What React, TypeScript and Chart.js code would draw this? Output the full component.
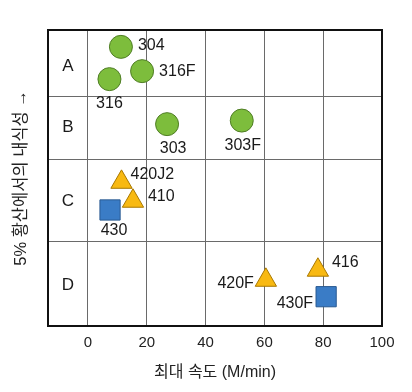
import { useEffect, useRef } from 'react';
import { Chart, registerables } from 'chart.js';

Chart.register(...registerables);

// ---- data ----
const gradeNames = ['304', '316F', '316', '303', '303F', '420J2', '410', '430', '420F', '416', '430F'];
const maxSpeed = [11.2, 18.4, 7.3, 26.9, 52.3, 11.4, 15.3, 7.5, 60.5, 78.2, 81.0];
const corrosionScore = [94.3, 86.1, 83.4, 68.2, 69.4, 48.6, 42.2, 39.2, 15.5, 18.9, 9.9];
const gradeGroup = ['aus', 'aus', 'aus', 'aus', 'aus', 'mar', 'mar', 'fer', 'mar', 'mar', 'fer'];

const xTicks = [0, 20, 40, 60, 80, 100];
const ratingBoundaries = [28.4, 56.4, 77.7];
const ratingLabels = ['A', 'B', 'C', 'D'];
const ratingY = [87.8, 67.1, 42.2, 13.9];
const ratingX = -6.8;

const xTitle = '최대 속도 (M/min)';
const yTitle = '5% 황산에서의 내식성 →';

// ---- styling (not data) ----
const FONT = "'Liberation Sans', 'Noto Sans CJK KR', Arial, sans-serif";
const TITLE_FONT = "'Liberation Sans', 'Noto Sans CJK KR', 'DejaVu Sans', sans-serif";
const groupStyle: Record<string, any> = {
  aus: { pointStyle: 'circle', radius: 11.5, bg: '#7dbd3c', border: '#4f7d25' },
  mar: { pointStyle: 'triangle', radius: 12.3, bg: '#f8b912', border: '#a97800' },
  fer: { pointStyle: 'rect', radius: 14.3, bg: '#3a7cc6', border: '#2a5a92' },
};
const labelPlacement = [
  { align: 'left', dx: 17, dy: -1 },
  { align: 'left', dx: 17, dy: 0.5 },
  { align: 'center', dx: 0, dy: 24 },
  { align: 'center', dx: 6, dy: 24 },
  { align: 'center', dx: 1, dy: 25 },
  { align: 'left', dx: 9, dy: -8 },
  { align: 'left', dx: 15, dy: -4 },
  { align: 'center', dx: 4, dy: 21 },
  { align: 'right', dx: -12, dy: 3 },
  { align: 'left', dx: 14, dy: -7 },
  { align: 'right', dx: -13, dy: 7 },
];

const annotationPlugin = {
  id: 'annotations',
  beforeDatasetsDraw(chart: any) {
    const { ctx, chartArea } = chart;
    ctx.save();
    ctx.strokeStyle = '#111';
    ctx.lineWidth = 2;
    ctx.strokeRect(chartArea.left, chartArea.top, chartArea.right - chartArea.left, chartArea.bottom - chartArea.top);
    const xs = chart.scales.x;
    const ys = chart.scales.y;
    ctx.fillStyle = '#1a1a1a';
    ctx.font = `17px ${FONT}`;
    ctx.textAlign = 'center';
    ctx.textBaseline = 'middle';
    ratingLabels.forEach((lab, i) => {
      ctx.fillText(lab, xs.getPixelForValue(ratingX), ys.getPixelForValue(ratingY[i]));
    });
    ctx.restore();
  },
  afterDatasetsDraw(chart: any) {
    const { ctx } = chart;
    ctx.save();
    ctx.fillStyle = '#1a1a1a';
    ctx.font = `16px ${FONT}`;
    ctx.textBaseline = 'middle';
    chart.data.datasets.forEach((ds: any, di: number) => {
      const meta = chart.getDatasetMeta(di);
      meta.data.forEach((el: any, j: number) => {
        const idx = ds.data[j].idx;
        const p = labelPlacement[idx];
        ctx.textAlign = p.align;
        ctx.fillText(gradeNames[idx], el.x + p.dx, el.y + p.dy);
      });
    });
    ctx.restore();
  },
};

function buildDataset(group: string) {
  const st = groupStyle[group];
  const data = gradeNames
    .map((_, i) => i)
    .filter((i) => gradeGroup[i] === group)
    .map((i) => ({ x: maxSpeed[i], y: corrosionScore[i], idx: i }));
  return {
    data,
    pointStyle: st.pointStyle,
    pointRadius: st.radius,
    pointBackgroundColor: st.bg,
    pointBorderColor: st.border,
    pointBorderWidth: 1,
    showLine: false,
  };
}

export default function App() {
  const ref = useRef<HTMLCanvasElement>(null);
  useEffect(() => {
    if (!ref.current) return;
    const chart = new Chart(ref.current, {
      type: 'scatter',
      data: { datasets: [buildDataset('aus'), buildDataset('mar'), buildDataset('fer')] as any },
      options: {
        animation: false,
        responsive: false,
        devicePixelRatio: 1,
        layout: { padding: { left: 0, top: 30, right: 30, bottom: 0 } },
        plugins: { legend: { display: false }, tooltip: { enabled: false } },
        scales: {
          x: {
            type: 'linear',
            min: -13.6,
            max: 100,
            afterBuildTicks: (s: any) => {
              s.ticks = xTicks.map((v) => ({ value: v }));
            },
            afterFit: (s: any) => {
              s.height = 66;
            },
            grid: { color: '#6a6a6a', lineWidth: 1, drawTicks: false, tickLength: 0 },
            border: { display: false },
            ticks: { padding: 8, color: '#222', font: { family: FONT, size: 15 }, maxRotation: 0 },
            title: {
              display: true,
              text: xTitle,
              color: '#222',
              font: { family: FONT, size: 16, lineHeight: 1.2 },
              padding: { top: 0, bottom: 10 },
            },
          },
          y: {
            type: 'linear',
            min: 0,
            max: 100,
            afterBuildTicks: (s: any) => {
              s.ticks = ratingBoundaries.map((v) => ({ value: v }));
            },
            afterFit: (s: any) => {
              s.width = 48;
            },
            grid: { color: '#6a6a6a', lineWidth: 1, drawTicks: false, tickLength: 0 },
            border: { display: false },
            ticks: { display: false },
            title: {
              display: true,
              text: yTitle,
              color: '#222',
              font: { family: TITLE_FONT, size: 16.5, lineHeight: 1.2 },
              padding: { top: 12, bottom: 0 },
            },
          },
        },
      },
      plugins: [annotationPlugin],
    });
    return () => chart.destroy();
  }, []);
  return (
    <div style={{ position: 'fixed', left: 0, top: 0, width: 412, height: 392, background: '#fff' }}>
      <canvas ref={ref} width={412} height={392} />
    </div>
  );
}
